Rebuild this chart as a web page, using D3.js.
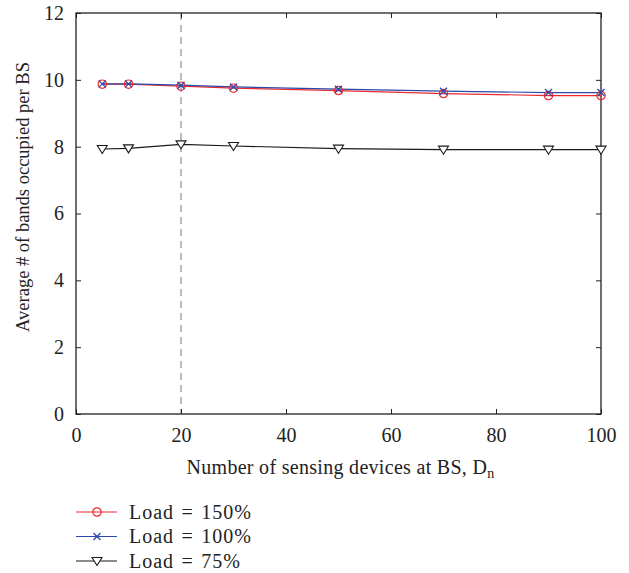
<!DOCTYPE html>
<html>
<head>
<meta charset="utf-8">
<script src="https://cdn.jsdelivr.net/npm/d3@7"></script>
<style>
  html, body { margin: 0; padding: 0; background: #fff; }
  svg { display: block; }
  text { font-family: "Liberation Serif", "DejaVu Serif", serif; fill: #222; }
</style>
</head>
<body>
<script>
// Number of sensing devices at the BS
const devices = [5, 10, 20, 30, 50, 70, 90, 100];
// Average number of bands occupied per BS for each load
const load150 = [9.87, 9.87, 9.81, 9.75, 9.68, 9.59, 9.53, 9.53];
const load100 = [9.88, 9.88, 9.84, 9.79, 9.72, 9.66, 9.62, 9.62];
const load75  = [7.93, 7.95, 8.07, 8.02, 7.94, 7.91, 7.91, 7.91];
const seriesNames = ["Load = 150%", "Load = 100%", "Load = 75%"];
const xTicks = [0, 20, 40, 60, 80, 100];
const yTicks = [0, 2, 4, 6, 8, 10, 12];
const markerLine = 20;

const W = 629, H = 573;
const m = { left: 76, right: 28, top: 13, bottom: 159 };
const pw = W - m.left - m.right, ph = H - m.top - m.bottom;

const svg = d3.select("body").append("svg").attr("width", W).attr("height", H);
const g = svg.append("g").attr("transform", `translate(${m.left},${m.top})`);

const x = d3.scaleLinear().domain([0, 100]).range([0, pw]);
const y = d3.scaleLinear().domain([0, 12]).range([ph, 0]);

// reference line at Dn = 20
g.append("line")
  .attr("x1", x(markerLine)).attr("x2", x(markerLine))
  .attr("y1", 0).attr("y2", ph)
  .attr("stroke", "#777").attr("stroke-width", 1)
  .attr("stroke-dasharray", "7,5");

// axes with inward ticks on all four sides
const tickLen = 5;
function styleAxis(sel) {
  sel.select(".domain").remove();
  sel.selectAll(".tick line").attr("stroke", "#222").attr("stroke-width", 1);
  sel.selectAll(".tick text").style("font-size", "20px").attr("fill", "#222");
}
g.append("g").attr("transform", `translate(0,${ph})`)
  .call(d3.axisBottom(x).tickValues(xTicks).tickSize(-tickLen).tickPadding(14))
  .call(styleAxis);
g.append("g")
  .call(d3.axisTop(x).tickValues(xTicks).tickSize(-tickLen).tickFormat(""))
  .call(styleAxis);
g.append("g")
  .call(d3.axisLeft(y).tickValues(yTicks).tickSize(-tickLen).tickPadding(12))
  .call(styleAxis);
g.append("g").attr("transform", `translate(${pw},0)`)
  .call(d3.axisRight(y).tickValues(yTicks).tickSize(-tickLen).tickFormat(""))
  .call(styleAxis);

g.append("rect").attr("width", pw).attr("height", ph)
  .attr("fill", "none").attr("stroke", "#222").attr("stroke-width", 1.3);

// series
const series = [
  { name: seriesNames[0], values: load150, color: "#ec2a2e", marker: "circle" },
  { name: seriesNames[1], values: load100, color: "#2c48a8", marker: "cross" },
  { name: seriesNames[2], values: load75,  color: "#1a1a1a", marker: "tri" }
];

function drawMarker(sel, type, color) {
  if (type === "circle") {
    sel.append("circle").attr("r", 4.2).attr("fill", "none")
      .attr("stroke", color).attr("stroke-width", 1.2);
  } else if (type === "cross") {
    sel.append("path").attr("d", "M-3.5,-3.5L3.5,3.5M-3.5,3.5L3.5,-3.5")
      .attr("stroke", color).attr("stroke-width", 1.3).attr("fill", "none");
  } else {
    sel.append("path").attr("d", "M-5,-3.5L5,-3.5L0,4.5Z")
      .attr("stroke", color).attr("stroke-width", 1.1).attr("fill", "#fff");
  }
}

const line = d3.line().x((d, i) => x(devices[i])).y(d => y(d));

// black first, then red, with blue on top
const order = [series[2], series[0], series[1]];
order.forEach(s => {
  g.append("path").datum(s.values).attr("d", line)
    .attr("fill", "none").attr("stroke", s.color).attr("stroke-width", 1.2);
});
order.forEach(s => {
  s.values.forEach((v, i) => {
    const mk = g.append("g").attr("transform", `translate(${x(devices[i])},${y(v)})`);
    drawMarker(mk, s.marker, s.color);
  });
});

// axis titles
const xt = svg.append("text")
  .attr("x", m.left + pw / 2 + 2).attr("y", 474)
  .attr("text-anchor", "middle").style("font-size", "20px")
  .style("letter-spacing", "0.3px");
xt.append("tspan").text("Number of sensing devices at BS, D");
xt.append("tspan").attr("dy", 4).style("font-size", "14px").text("n");

svg.append("text")
  .attr("transform", `translate(29,197) rotate(-90)`)
  .attr("text-anchor", "middle").style("font-size", "18.5px")
  .text("Average # of bands occupied per BS");

// legend
const leg = svg.append("g").attr("transform", "translate(76,512)");
series.forEach((s, i) => {
  const row = leg.append("g").attr("transform", `translate(0,${i * 24.5})`);
  row.append("line").attr("x1", 0).attr("x2", 41).attr("y1", 0).attr("y2", 0)
    .attr("stroke", s.color).attr("stroke-width", 1.2);
  const mk = row.append("g").attr("transform", "translate(21,0)");
  drawMarker(mk, s.marker, s.color);
  row.append("text").attr("x", 53).attr("y", 6.5)
    .style("font-size", "20px").style("letter-spacing", "1px").style("word-spacing", "1.5px")
    .text(s.name);
});
</script>
</body>
</html>
